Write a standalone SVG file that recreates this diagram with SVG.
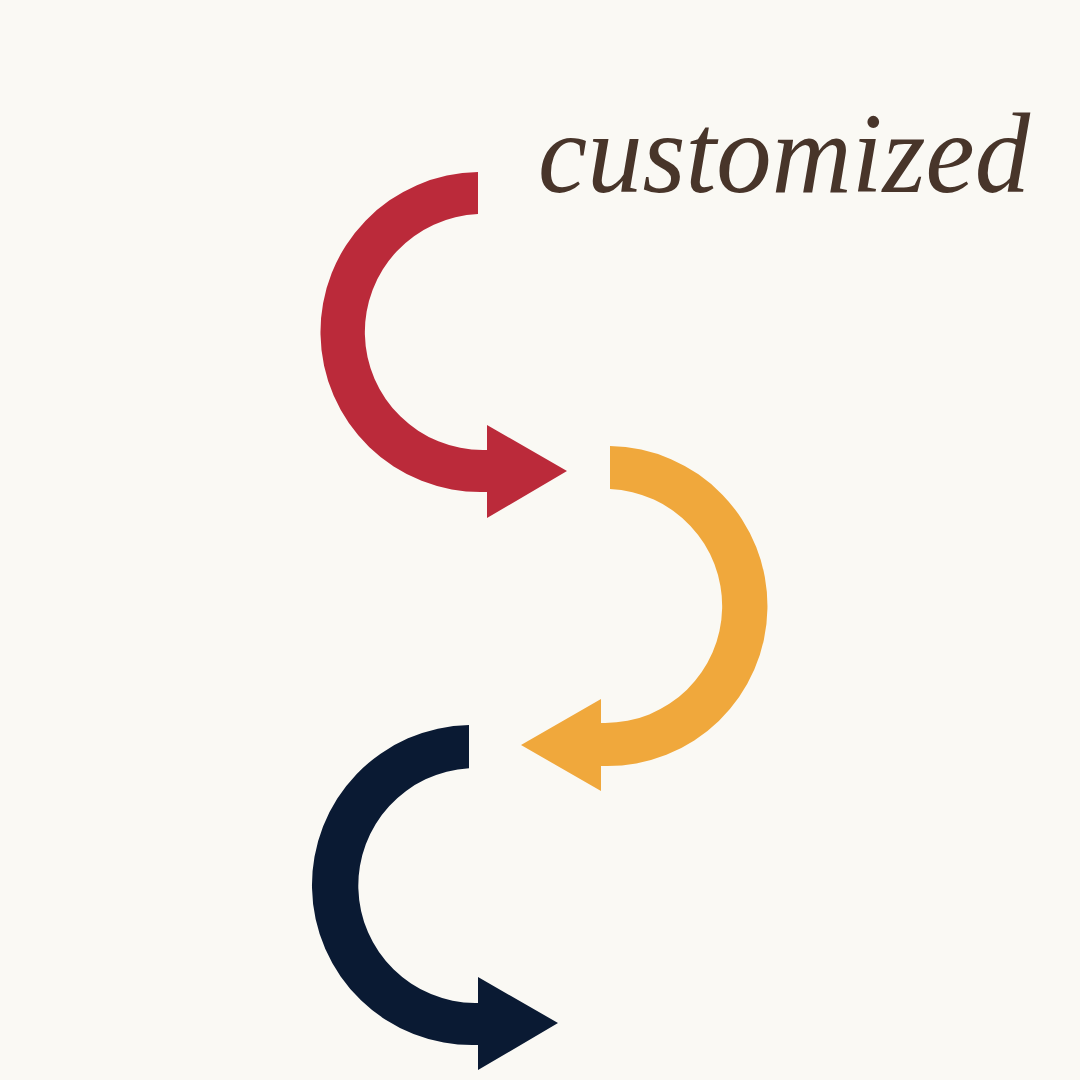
<svg xmlns="http://www.w3.org/2000/svg" width="1080" height="1080" viewBox="0 0 1080 1080">
<style>
.red{fill:#BB2A3A}
.orange{fill:#F0A83C}
.navy{fill:#0A1A33}
.title{font-family:"Liberation Serif","DejaVu Serif",serif;font-style:italic;fill:#48352A}
</style>
<rect width="1080" height="1080" fill="#FAF9F4"/>
<g id="title">
<text class="title" x="538" y="192" font-size="114" textLength="492" lengthAdjust="spacingAndGlyphs">customized</text>
</g>
<g id="connectors">
<path id="arrow-red" class="red" d="M 478 172 A 160 160 0 0 0 483 492 L 487 492 L 487 518 L 567 471 L 487 425 L 487 450 L 483 450 A 118 118 0 0 1 478 214.1 Z"/>
<path id="arrow-orange" class="orange" d="M 610 446 A 160 160 0 0 1 605 766 L 601 766 L 601 791 L 521 745 L 601 699 L 601 723 L 605 723 A 117 117 0 0 0 610 489.1 Z"/>
<path id="arrow-navy" class="navy" d="M 469 725 A 160 160 0 0 0 475 1045 L 478 1045 L 478 1070 L 558 1023 L 478 977 L 478 1003 L 475 1003 A 117.5 117.5 0 0 1 469 768.2 Z"/>
</g>
</svg>
